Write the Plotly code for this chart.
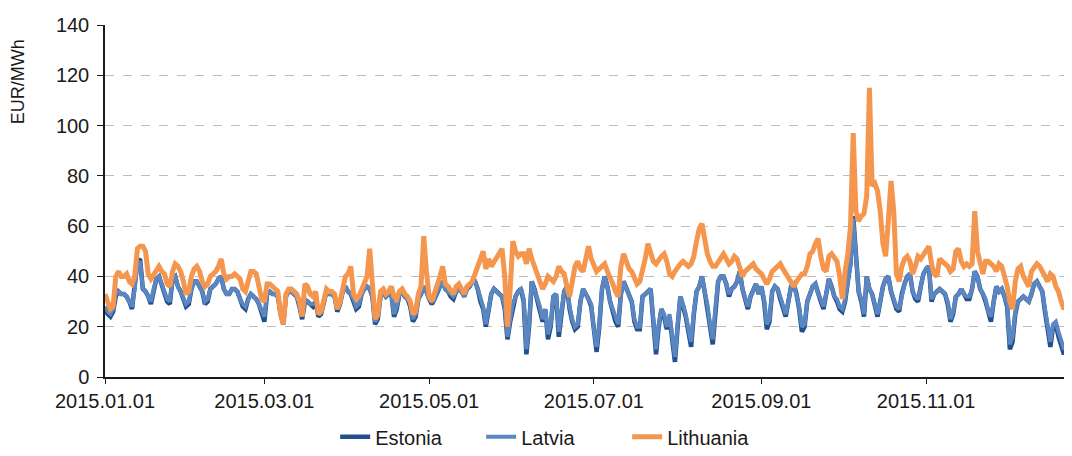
import pandas as pd
import plotly.graph_objects as go

start_date = "2015-01-01"

estonia = [
    27, 25, 24, 26, 32, 34, 33, 33, 32, 30, 27, 35, 46, 47, 35, 34, 32, 29, 35, 39, 40, 37, 34, 30, 29, 39, 40, 36, 34, 31, 28,
    29, 35, 38, 38, 36, 34, 29, 30, 35, 36, 37, 39, 40, 35, 33, 33, 35, 35, 34, 31, 28, 27, 31, 33, 32, 31, 29, 25,
    22, 33, 34, 33, 33, 32, 25, 21, 32, 34, 34, 33, 32, 28, 23, 30, 30, 29, 28, 30, 24, 25, 30, 34, 33, 33, 32, 26, 29, 34, 36,
    34, 33, 30, 27, 28, 33, 35, 36, 35, 32, 21, 23, 32, 34, 32, 33, 33, 24, 27, 33, 34, 32, 31, 28, 22, 24, 31, 33, 36, 34,
    31, 29, 31, 34, 36, 38, 35, 34, 32, 31, 34, 35, 34, 32, 35, 36, 38, 38, 35, 30, 27, 20, 26, 33, 35, 34, 33, 32, 27, 15, 22,
    28, 32, 34, 35, 30, 9, 20, 38, 35, 31, 27, 22, 27, 15, 20, 32, 33, 16, 25, 34, 36, 27, 22, 19, 20, 30, 35, 33, 31, 28,
    18, 10, 20, 35, 40, 36, 30, 26, 22, 20, 33, 38, 35, 32, 30, 22, 19, 19, 32, 33, 34, 35, 22, 9, 20, 27, 24, 19, 24, 14, 6,
    20, 32, 28, 24, 18, 12, 25, 34, 36, 40, 34, 28, 20, 13, 28, 38, 40, 40, 37, 32, 35, 36, 38, 42, 35, 30, 27, 32, 35, 37, 33,
    36, 30, 19, 22, 34, 36, 35, 31, 27, 24, 30, 36, 37, 33, 27, 18, 20, 30, 33, 36, 37, 33, 30, 27, 33, 39, 36, 32, 30, 27,
    26, 30, 38, 45, 64, 48, 34, 30, 24, 40, 35, 33, 28, 24, 30, 36, 39, 40, 34, 30, 27, 26, 33, 37, 40, 41, 34, 31, 30, 36, 41,
    43, 44, 30, 33, 34, 35, 34, 33, 29, 22, 25, 32, 33, 35, 33, 31, 31, 35, 42, 40, 35, 33, 30, 25, 22, 30, 36, 34, 35, 32,
    28, 11, 14, 25, 30, 31, 32, 31, 30, 33, 37, 38, 36, 34, 26, 18, 12, 20, 21, 16, 13, 9, 14, 23, 25,
]

latvia = [
    28, 26, 25, 27, 33, 34, 33, 33, 32, 30, 28, 35, 45, 46, 35, 34, 32, 30, 35, 39, 40, 37, 34, 31, 30, 39, 40, 36, 34, 31, 29,
    30, 35, 38, 38, 36, 34, 30, 31, 35, 36, 37, 39, 40, 35, 33, 33, 35, 35, 34, 31, 29, 28, 31, 33, 32, 31, 29, 26,
    24, 33, 34, 33, 33, 32, 26, 22, 32, 34, 34, 33, 32, 29, 24, 31, 30, 29, 29, 30, 25, 26, 30, 34, 33, 33, 32, 27, 29, 34, 36,
    34, 33, 31, 28, 29, 33, 35, 36, 35, 32, 22, 24, 32, 34, 32, 33, 33, 25, 28, 33, 34, 32, 31, 29, 23, 25, 31, 33, 36, 34,
    31, 30, 31, 34, 36, 38, 35, 34, 33, 32, 34, 35, 34, 32, 35, 36, 38, 38, 35, 31, 28, 21, 27, 33, 35, 34, 33, 32, 28, 16, 23,
    29, 32, 34, 35, 31, 11, 21, 38, 35, 31, 28, 23, 27, 17, 21, 32, 33, 18, 26, 34, 36, 28, 23, 20, 21, 30, 35, 33, 31, 29,
    19, 12, 21, 35, 40, 36, 30, 27, 23, 21, 33, 38, 35, 32, 30, 23, 20, 20, 32, 33, 34, 35, 23, 11, 21, 27, 25, 20, 25, 15, 8,
    21, 32, 29, 25, 19, 14, 26, 34, 36, 40, 34, 29, 21, 15, 28, 38, 40, 40, 37, 33, 35, 36, 38, 42, 35, 31, 28, 32, 35, 37, 33,
    36, 31, 21, 23, 34, 36, 35, 32, 28, 25, 30, 36, 37, 33, 28, 20, 21, 30, 33, 36, 37, 33, 31, 28, 33, 39, 36, 32, 31, 28,
    27, 31, 38, 45, 63, 47, 34, 31, 25, 40, 35, 33, 29, 25, 30, 36, 39, 40, 34, 31, 28, 27, 33, 37, 40, 41, 34, 32, 31, 36, 41,
    43, 44, 31, 33, 34, 35, 34, 33, 30, 23, 26, 32, 33, 35, 33, 32, 32, 35, 42, 40, 35, 33, 31, 26, 24, 30, 36, 34, 35, 32,
    29, 13, 16, 26, 30, 31, 32, 31, 30, 33, 37, 38, 36, 34, 27, 20, 14, 21, 22, 18, 15, 11, 15, 24, 25,
]

lithuania = [
    33, 30, 27, 28, 40, 42, 40, 40, 41, 38, 37, 40, 51, 52, 52, 50, 41, 39, 41, 43, 44, 42, 41, 37, 36, 42, 45, 44, 42, 38, 33,
    34, 40, 43, 44, 42, 38, 36, 37, 40, 41, 42, 44, 47, 41, 39, 40, 40, 41, 40, 39, 35, 34, 38, 42, 42, 41, 36, 31,
    30, 37, 37, 36, 35, 34, 25, 21, 33, 35, 35, 34, 33, 30, 24, 37, 36, 33, 32, 34, 25, 26, 31, 35, 34, 34, 33, 27, 30, 35, 40,
    41, 44, 33, 31, 32, 35, 38, 40, 51, 38, 23, 25, 34, 35, 33, 34, 36, 32, 31, 34, 35, 33, 32, 30, 25, 26, 33, 36, 56, 42,
    32, 30, 33, 36, 40, 44, 37, 36, 34, 33, 36, 37, 35, 33, 36, 37, 38, 41, 44, 47, 50, 43, 47, 44, 46, 48, 50, 51, 40, 20, 35,
    54, 50, 48, 49, 49, 45, 51, 47, 44, 41, 38, 35, 37, 40, 39, 38, 40, 44, 42, 41, 36, 32, 38, 44, 46, 43, 42, 48, 52, 47,
    44, 42, 43, 44, 45, 42, 40, 37, 34, 32, 44, 49, 46, 43, 42, 40, 37, 38, 42, 47, 53, 49, 46, 45, 47, 48, 49, 46, 41, 40, 42,
    44, 45, 46, 45, 44, 45, 48, 54, 59, 61, 54, 49, 46, 44, 44, 46, 48, 49, 47, 45, 46, 48, 47, 43, 40, 42, 43, 44, 45, 43, 42,
    41, 39, 37, 39, 42, 43, 44, 45, 43, 41, 40, 38, 36, 38, 40, 41, 41, 44, 49, 50, 53, 55, 48, 43, 42, 48, 49, 47, 46, 40,
    31, 42, 49, 60, 97, 66, 62, 64, 65, 72, 115, 76, 77, 74, 66, 53, 48, 62, 78, 66, 41, 38, 44, 47, 48, 46, 41, 44, 48, 47, 49,
    50, 52, 45, 41, 40, 47, 46, 45, 44, 42, 43, 50, 51, 46, 44, 45, 44, 45, 66, 50, 46, 41, 46, 46, 45, 44, 42, 45, 44, 40,
    36, 30, 27, 38, 43, 44, 40, 38, 36, 42, 44, 45, 44, 42, 40, 38, 41, 40, 36, 34, 30, 27, 29, 35, 37,
]

series_names = ["Estonia", "Latvia", "Lithuania"]
series_values = [estonia, latvia, lithuania]
series_colors = ["#22508f", "#5a86c2", "#f5964f"]
series_widths = [4.5, 4, 5]

y_ticks = [0, 20, 40, 60, 80, 100, 120, 140]
x_tick_dates = ["2015-01-01", "2015-03-01", "2015-05-01", "2015-07-01", "2015-09-01", "2015-11-01"]
x_tick_text = ["2015.01.01", "2015.03.01", "2015.05.01", "2015.07.01", "2015.09.01", "2015.11.01"]
y_title = "EUR/MWh"

FONT = "Liberation Sans, Arial, sans-serif"

fig = go.Figure()
for name, vals, color, w in zip(series_names, series_values, series_colors, series_widths):
    dates = pd.date_range(start_date, periods=len(vals), freq="D")
    fig.add_trace(go.Scatter(
        x=dates, y=vals, mode="lines", name=name,
        line=dict(color=color, width=w),
    ))

# the page body has an 8px margin; the figure is sized so the plot lands where the reference has it
fig.update_layout(
    width=1064, height=448,
    margin=dict(l=97, r=0, t=17, b=79, autoexpand=False),
    paper_bgcolor="white", plot_bgcolor="white",
    font=dict(family=FONT, size=20, color="#1a1a1a"),
    showlegend=True,
    legend=dict(
        orientation="h", x=0.238, xanchor="left", y=-0.17, yanchor="middle",
        font=dict(size=20, color="#1a1a1a"), bgcolor="rgba(0,0,0,0)",
        entrywidth=101, entrywidthmode="pixels",
    ),
    annotations=[dict(
        text=y_title, textangle=-90, xref="paper", yref="paper",
        x=-0.09, y=0.84, xanchor="center", yanchor="middle",
        showarrow=False, font=dict(size=18, color="#1a1a1a"),
    )],
)

fig.update_xaxes(
    type="date",
    range=["2015-01-01", "2015-12-25"],
    tickvals=x_tick_dates, ticktext=x_tick_text,
    showgrid=False, zeroline=False,
    showline=True, linecolor="#1a1a1a", linewidth=1.5,
    ticks="outside", ticklen=5, tickcolor="#1a1a1a",
    tickfont=dict(size=20),
)
fig.update_yaxes(
    range=[0, 140],
    tickvals=y_ticks,
    showgrid=True, gridcolor="#bdbdbd", gridwidth=1, griddash="dash",
    zeroline=False,
    showline=True, linecolor="#1a1a1a", linewidth=1.5,
    ticks="outside", ticklen=6, tickcolor="#1a1a1a",
    tickfont=dict(size=20),
    ticklabelstandoff=4,
)

fig.write_html("out.html")
